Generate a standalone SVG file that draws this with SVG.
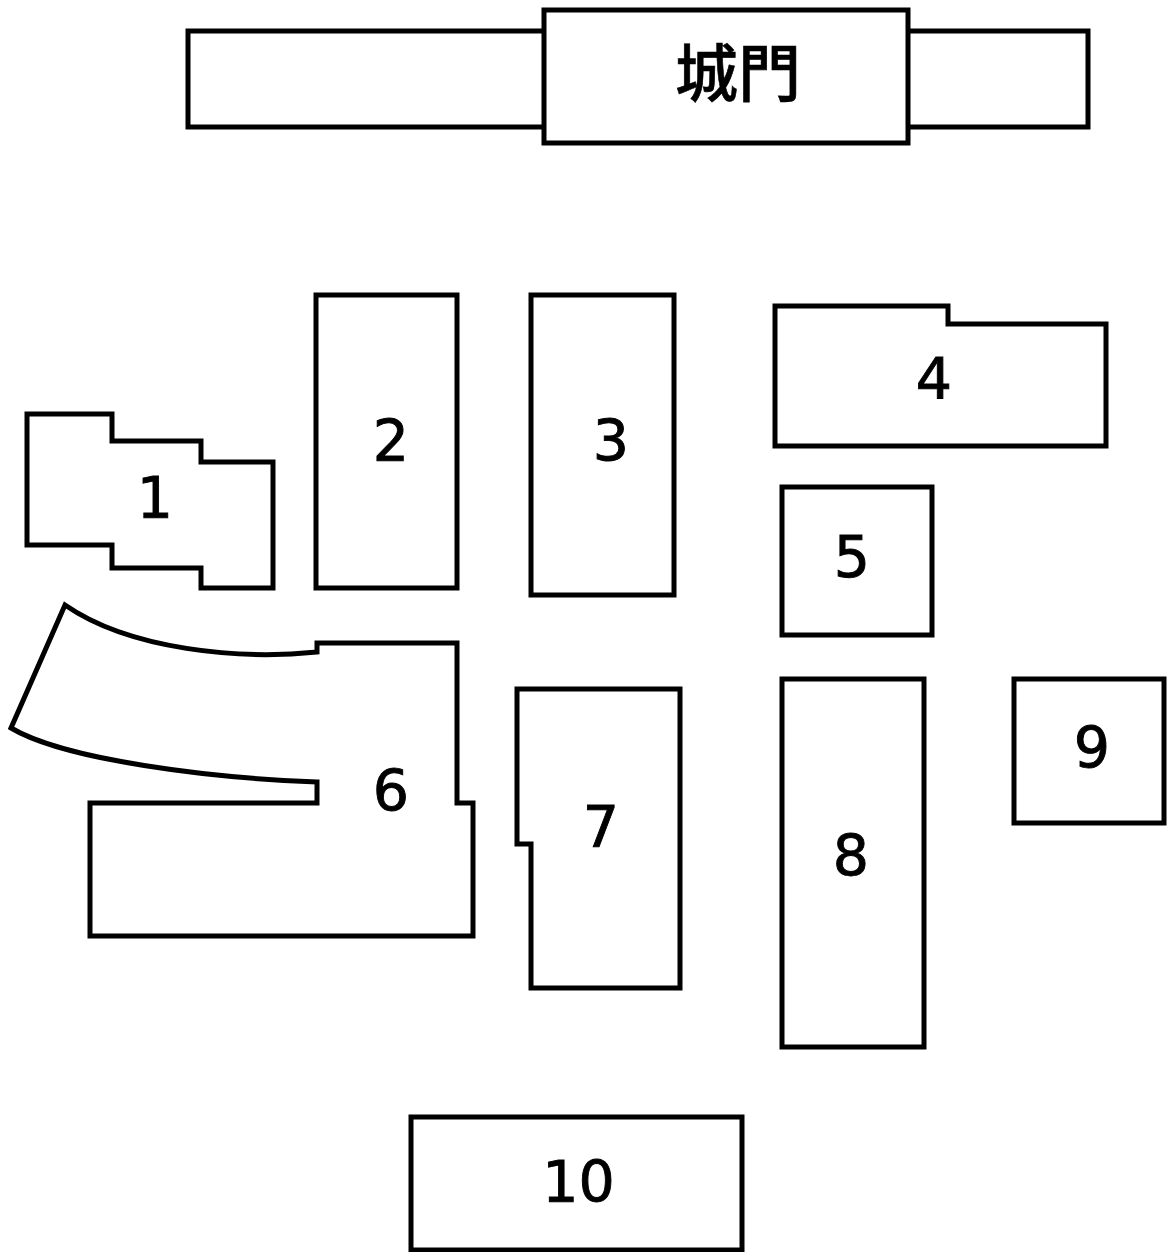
<svg xmlns="http://www.w3.org/2000/svg" width="1170" height="1252" viewBox="0 0 1170 1252">
<style>
.b{fill:#fff;stroke:#000;stroke-width:5}
.t{font-family:"DejaVu Sans",sans-serif;font-size:57px;fill:#000;stroke:#000;stroke-width:.9;text-anchor:middle}
.g{font-family:"Noto Sans CJK TC",sans-serif;font-size:63px;font-weight:500;stroke-width:.6}
</style>
<rect width="1170" height="1252" fill="#fff"/>
<g id="gate">
<rect class="b" x="188" y="31" width="900" height="96"/>
<rect class="b" x="544" y="10" width="364" height="133"/>
<text class="t g" x="738" y="96">城門</text>
</g>
<g id="n1"><path class="b" d="M27 414H112V441H201V462H273V588H201V568H112V545H27Z"/><text class="t" x="155" y="518">1</text></g>
<g id="n2"><rect class="b" x="316" y="295" width="141" height="293"/><text class="t" x="391" y="461">2</text></g>
<g id="n3"><rect class="b" x="531" y="295" width="143" height="300"/><text class="t" x="611" y="461">3</text></g>
<g id="n4"><path class="b" d="M775 306H948V324H1106V446H775Z"/><text class="t" x="934" y="399">4</text></g>
<g id="n5"><rect class="b" x="782" y="487" width="150" height="148"/><text class="t" x="852" y="577">5</text></g>
<g id="n6"><path class="b" d="M65 605C130 650 240 660 317 652V643H457V803H473V936H90V803H317V782C210 778 65 760 11 728Z"/><text class="t" x="391" y="811">6</text></g>
<g id="n7"><path class="b" d="M517 689H680V988H531V844H517Z"/><text class="t" x="601" y="847">7</text></g>
<g id="n8"><rect class="b" x="782" y="679" width="142" height="368"/><text class="t" x="851" y="876">8</text></g>
<g id="n9"><rect class="b" x="1014" y="679" width="150" height="144"/><text class="t" x="1092" y="768">9</text></g>
<g id="n10"><rect class="b" x="411" y="1117" width="331" height="133"/><text class="t" x="578.500" y="1202">10</text></g>
</svg>
